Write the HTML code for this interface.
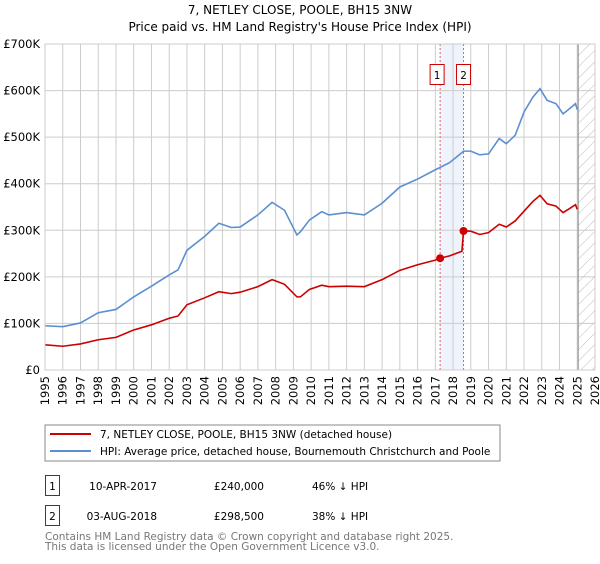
<!DOCTYPE html>
<html><head><meta charset="utf-8"><style>
body{margin:0;background:#fff;font-family:"DejaVu Sans","Liberation Sans",sans-serif;}
svg text{font-family:"DejaVu Sans","Liberation Sans",sans-serif;}
</style></head><body>
<svg id="c" width="600" height="560" xmlns="http://www.w3.org/2000/svg">
<text x="300" y="14" text-anchor="middle" font-size="12">7, NETLEY CLOSE, POOLE, BH15 3NW</text>
<text x="300" y="31" text-anchor="middle" font-size="12">Price paid vs. HM Land Registry's House Price Index (HPI)</text>
<g id="grid"></g>
<g id="marks"></g>
<g id="axes"></g>
<rect x="45" y="425" width="455" height="36" fill="#fff" stroke="#888"/>
<line x1="50" y1="434" x2="91" y2="434" stroke="#cc0000" stroke-width="2"/>
<text x="100" y="438" font-size="10.5">7, NETLEY CLOSE, POOLE, BH15 3NW (detached house)</text>
<line x1="50" y1="451" x2="91" y2="451" stroke="#5b8fd0" stroke-width="2"/>
<text x="100" y="455" font-size="10.5">HPI: Average price, detached house, Bournemouth Christchurch and Poole</text>
<g>
<rect x="45.5" y="475.5" width="14" height="20" fill="#fff" stroke="#cc0000"/>
<text x="52.5" y="490" text-anchor="middle" font-size="10.5">1</text>
<text x="157" y="490" text-anchor="end" font-size="10.5">10-APR-2017</text>
<text x="264" y="490" text-anchor="end" font-size="10.5">£240,000</text>
<text x="312" y="490" font-size="10.5">46% ↓ HPI</text></g>
<g>
<rect x="45.5" y="505.5" width="14" height="20" fill="#fff" stroke="#cc0000"/>
<text x="52.5" y="520" text-anchor="middle" font-size="10.5">2</text>
<text x="157" y="520" text-anchor="end" font-size="10.5">03-AUG-2018</text>
<text x="264" y="520" text-anchor="end" font-size="10.5">£298,500</text>
<text x="312" y="520" font-size="10.5">38% ↓ HPI</text></g>
<text x="45" y="540" font-size="10.5" fill="#777">Contains HM Land Registry data © Crown copyright and database right 2025.</text>
<text x="45" y="550" font-size="10.5" fill="#777">This data is licensed under the Open Government Licence v3.0.</text>
</svg>
<script>
const hpiYears=[1995,1996,1997,1998,1999,2000,2001,2002,2002.5,2003,2004,2004.8,2005.5,2006,2007,2007.8,2008.5,2009.2,2009.4,2009.9,2010.6,2011,2012,2013,2014,2015,2016,2017,2017.8,2018.6,2019,2019.5,2020,2020.6,2021,2021.5,2022,2022.5,2022.9,2023.3,2023.8,2024.2,2024.5,2024.9,2025.0];
const hpiValues=[95,93,101,123,130,157,180,204,215,257,287,315,306,307,333,360,343,290,297,322,340,333,338,333,358,393,410,430,445,470,470,462,464,497,486,504,554,586,604,579,572,550,559,572,559];
const priceYears=[1995,1996,1997,1998,1999,2000,2001,2002,2002.5,2003,2004,2004.8,2005.5,2006,2007,2007.8,2008.5,2009.2,2009.4,2009.9,2010.6,2011,2012,2013,2014,2015,2016,2017,2017.27,2017.8,2018.5,2018.59,2019,2019.5,2020,2020.6,2021,2021.5,2022,2022.5,2022.9,2023.3,2023.8,2024.2,2024.5,2024.9,2025.0];
const priceValues=[54,51,56,65,70,86,97,111,116,140,155,168,164,167,179,194,184,157,157,173,182,179,180,179,194,214,226,236,240,245,255,298.5,298,291,295,313,307,320,341,362,375,357,352,338,345,355,345];
const saleYears=[2017.27,2018.59];
const saleValues=[240,298.5];
const saleLabels=["1","2"];
const yTicks=[0,100,200,300,400,500,600,700];
const yTickLabels=["£0","£100K","£200K","£300K","£400K","£500K","£600K","£700K"];
const xTicks=[1995,1996,1997,1998,1999,2000,2001,2002,2003,2004,2005,2006,2007,2008,2009,2010,2011,2012,2013,2014,2015,2016,2017,2018,2019,2020,2021,2022,2023,2024,2025,2026];
const dataEnd=2025.05;

const NS="http://www.w3.org/2000/svg";
const L=45,R=595,T=44,B=370,x0=1995,x1=2026,ymax=700;
const xs=v=>L+(v-x0)/(x1-x0)*(R-L);
const ys=v=>B-v/ymax*(B-T);
function mk(p,tag,a){const e=document.createElementNS(NS,tag);for(const k in a)e.setAttribute(k,a[k]);p.appendChild(e);return e;}
const grid=document.getElementById('grid'),marks=document.getElementById('marks'),axes=document.getElementById('axes');
// shaded band between sales
let band=mk(grid,'rect',{x:xs(saleYears[0]),y:T,width:xs(saleYears[1])-xs(saleYears[0]),height:B-T,fill:'#eef3fc'});


xTicks.forEach(t=>{let l=mk(grid,'line',{x1:xs(t),x2:xs(t),y1:T,y2:B,stroke:'#ccc'});


let tx=mk(axes,'text',{x:0,y:0,transform:`translate(${xs(t)+4},${B+6}) rotate(-90)`,'text-anchor':'end','font-size':'11.5'});tx.textContent=t;

});
yTicks.forEach((t,i)=>{let l=mk(grid,'line',{x1:L,x2:R,y1:ys(t),y2:ys(t),stroke:'#ccc'});


let tx=mk(axes,'text',{x:L-5,y:ys(t)+4,'text-anchor':'end','font-size':'11.5'});tx.textContent=yTickLabels[i];

});
// hatched future region
const defs=mk(grid,'defs',{});const pat=mk(defs,'pattern',{id:'h',width:8,height:8,patternUnits:'userSpaceOnUse',patternTransform:'rotate(45)'});
mk(pat,'line',{x1:0,y1:0,x2:0,y2:8,stroke:'#bbb','stroke-width':1});
let fut=mk(grid,'rect',{x:xs(dataEnd),y:T,width:R-xs(dataEnd),height:B-T,fill:'url(#h)'});


let fl=mk(grid,'line',{x1:xs(dataEnd),x2:xs(dataEnd),y1:T,y2:B,stroke:'#888'});


saleYears.forEach((s,i)=>{let l=mk(grid,'line',{x1:xs(s),x2:xs(s),y1:T,y2:B,stroke:'#e06060','stroke-dasharray':'2,2'});

});
let hp=mk(marks,'polyline',{points:hpiYears.map((y,i)=>xs(y)+','+ys(hpiValues[i])).join(' '),fill:'none',stroke:'#5b8fd0','stroke-width':1.6});


let pp=mk(marks,'polyline',{points:priceYears.map((y,i)=>xs(y)+','+ys(priceValues[i])).join(' '),fill:'none',stroke:'#cc0000','stroke-width':1.6});


saleYears.forEach((s,i)=>{let c=mk(marks,'circle',{cx:xs(s),cy:ys(saleValues[i]),r:4,fill:'#cc0000'});


let g=mk(marks,'g',{});


const cx=xs(s)+(i===0?-3:0);
mk(g,'rect',{x:cx-7,y:64.5,width:14,height:20,fill:'#fff',stroke:'#cc0000'});
let t=mk(g,'text',{x:cx,y:79,'text-anchor':'middle','font-size':'10.5'});t.textContent=saleLabels[i];});
mk(axes,'rect',{x:L,y:T,width:R-L,height:B-T,fill:'none',stroke:'#ccc'});
</script>
</body></html>
